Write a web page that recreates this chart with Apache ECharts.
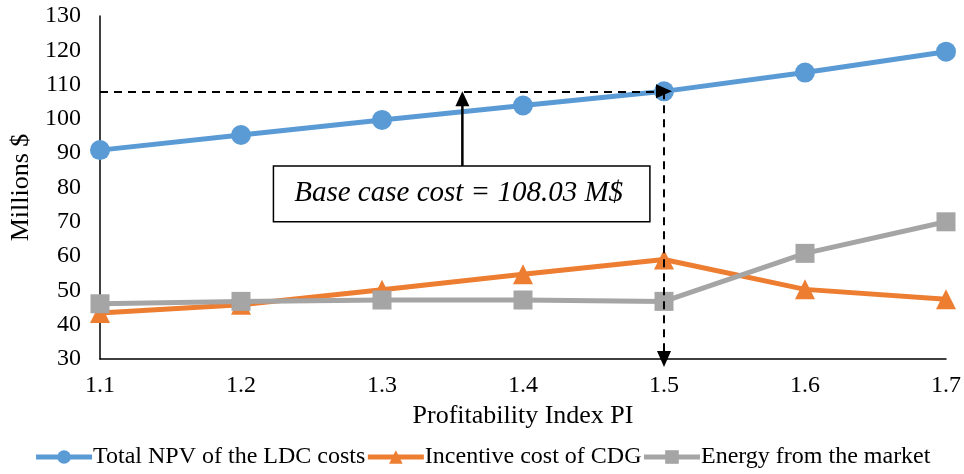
<!DOCTYPE html>
<html>
<head>
<meta charset="utf-8">
<script src="https://cdn.jsdelivr.net/npm/echarts@6/dist/echarts.min.js"></script>
<style>
  html, body { margin: 0; padding: 0; background: #fff; }
  #chart { width: 964px; height: 474px; }
</style>
</head>
<body>
<div id="chart"></div>
<script>
// Profitability index values on the x axis
const piValues = ['1.1', '1.2', '1.3', '1.4', '1.5', '1.6', '1.7'];

// Costs in millions of dollars
const totalNpv = [90.9, 95.3, 99.7, 103.9, 108.03, 113.5, 119.6];
const incentiveCost = [43.4, 45.8, 50.2, 54.7, 59.0, 50.3, 47.4];
const marketEnergy = [46.1, 46.8, 47.2, 47.2, 46.8, 60.8, 70.0];

const seriesNames = ['Total NPV of the LDC costs', 'Incentive cost of CDG', 'Energy from the market'];

// Base case annotation
const baseCasePI = '1.5';
const baseCaseCost = 108.03;
const baseCaseText = 'Base case cost = 108.03 M$';

const FONT = '"Liberation Serif", "Times New Roman", serif';
const chart = echarts.init(document.getElementById('chart'));

const dashed = { color: '#000', type: [8, 6], width: 2 };

chart.setOption({
  animation: false,
  backgroundColor: '#fff',
  textStyle: { fontFamily: FONT },
  grid: { left: 100, right: 18, top: 16, bottom: 115 },
  legend: {
    bottom: 0,
    left: 'center',
    itemGap: 0,
    itemWidth: 56,
    itemHeight: 17,
    lineStyle: { width: 5 },
    textStyle: { fontFamily: FONT, fontSize: 24, color: '#000', padding: [0, 0, 0, -4] },
    data: seriesNames
  },
  xAxis: {
    type: 'category',
    data: piValues,
    boundaryGap: false,
    name: 'Profitability Index PI',
    nameLocation: 'middle',
    nameGap: 44,
    nameTextStyle: { fontFamily: FONT, fontSize: 26, color: '#000' },
    axisLine: { lineStyle: { color: '#000', width: 1.5 } },
    axisTick: { show: false },
    axisLabel: { fontFamily: FONT, fontSize: 24, color: '#000', margin: 15 },
    splitLine: { show: false }
  },
  yAxis: {
    type: 'value',
    min: 30,
    max: 130,
    interval: 10,
    name: 'Millions $',
    nameLocation: 'middle',
    nameGap: 66,
    nameTextStyle: { fontFamily: FONT, fontSize: 26, color: '#000' },
    axisLine: { show: true, lineStyle: { color: '#000', width: 1.5 } },
    axisTick: { show: false },
    axisLabel: { fontFamily: FONT, fontSize: 24, color: '#000', margin: 19 },
    splitLine: { show: false }
  },
  series: [
    {
      name: seriesNames[0],
      type: 'line',
      data: totalNpv,
      symbol: 'circle',
      symbolSize: 20,
      color: '#5B9BD5',
      lineStyle: { width: 5 },
      z: 3,
      markLine: {
        silent: true,
        symbol: ['none', 'triangle'],
        symbolSize: [14, 16],
        label: { show: false },
        lineStyle: dashed,
        z: 10,
        data: [
          [{ coord: ['1.1', baseCaseCost] }, { coord: [baseCasePI, baseCaseCost] }],
          [{ coord: [baseCasePI, baseCaseCost] }, { coord: [baseCasePI, 30] }]
        ]
      }
    },
    {
      name: seriesNames[1],
      type: 'line',
      data: incentiveCost,
      symbol: 'triangle',
      symbolSize: 20,
      color: '#ED7D31',
      lineStyle: { width: 5 },
      z: 2
    },
    {
      name: seriesNames[2],
      type: 'line',
      data: marketEnergy,
      symbol: 'rect',
      symbolSize: 19,
      color: '#A5A5A5',
      lineStyle: { width: 5 },
      z: 4
    }
  ]
});

// Pixel position for a fractional category position and a value
function toPixel(catPos, value) {
  const p0 = chart.convertToPixel({ gridIndex: 0 }, [0, value]);
  const p1 = chart.convertToPixel({ gridIndex: 0 }, [1, value]);
  return [p0[0] + (p1[0] - p0[0]) * catPos, p0[1]];
}

// Text box and arrow pointing up to the base case cost line
function drawAnnotation() {
  const boxTL = toPixel(1.23, 86.3);
  const boxBR = toPixel(3.9, 70.0);
  const arrowBase = toPixel(2.57, 86.3);
  const arrowTip = toPixel(2.57, baseCaseCost);
  const ax = arrowBase[0];
  const tipY = arrowTip[1];
  chart.setOption({
    graphic: [
      {
        type: 'rect',
        shape: { x: boxTL[0], y: boxTL[1], width: boxBR[0] - boxTL[0], height: boxBR[1] - boxTL[1] },
        style: { fill: '#fff', stroke: '#000', lineWidth: 1.5 },
        z: 20
      },
      {
        type: 'text',
        x: (boxTL[0] + boxBR[0]) / 2 - 3,
        y: (boxTL[1] + boxBR[1]) / 2,
        style: {
          text: baseCaseText,
          fontFamily: FONT,
          fontStyle: 'italic',
          fontSize: 29,
          fill: '#000',
          align: 'center',
          verticalAlign: 'middle'
        },
        z: 21
      },
      {
        type: 'line',
        shape: { x1: ax, y1: boxTL[1], x2: ax, y2: tipY + 12 },
        style: { stroke: '#000', lineWidth: 2.5 },
        z: 20
      },
      {
        type: 'polygon',
        shape: { points: [[ax, tipY], [ax - 7, tipY + 15], [ax + 7, tipY + 15]] },
        style: { fill: '#000' },
        z: 20
      }
    ]
  });
}
drawAnnotation();
</script>
</body>
</html>
